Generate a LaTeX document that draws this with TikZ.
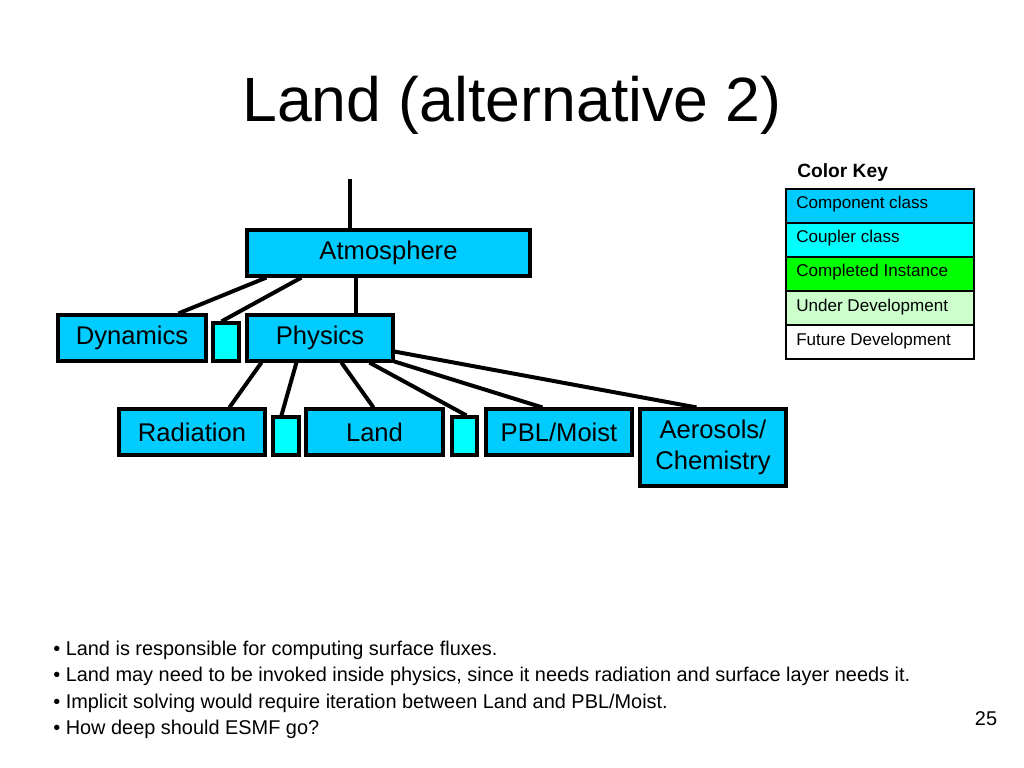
\documentclass[tikz,border=0pt]{standalone}
\usepackage{fontspec}
\setmainfont{Liberation Sans}
\usepackage{tikz}
\usetikzlibrary{calc}
\definecolor{compblue}{RGB}{0,204,255}
\definecolor{cplcyan}{RGB}{0,255,255}
\definecolor{donegreen}{RGB}{0,255,0}
\definecolor{devgreen}{RGB}{204,255,204}
\def\px{0.703125pt}

\begin{document}
\begin{tikzpicture}[x=\px, y=-\px,
  comp/.style={draw, line width=2.2pt, fill=compblue, inner sep=0pt, align=center,
    font=\fontsize{18}{21.6}\selectfont},
  cpl/.style={draw, line width=2.2pt, fill=cplcyan, inner sep=0pt},
  link/.style={line width=2.8pt},
  keyrow/.style={draw, line width=1.4pt, anchor=north west, minimum width=188*\px,
    minimum height=34*\px, inner sep=0pt}
]
  \useasboundingbox[fill=white] (0,0) rectangle (1024,768);

  % title
  \node[anchor=base, font=\fontsize{44}{52}\selectfont] (title) at (512,122) {Land (alternative 2)};

  % component tree
  \node[comp, minimum width=283*\px, minimum height=46*\px] (atm) at (388.5,253) {Atmosphere};
  \node[comp, minimum width=148*\px, minimum height=46*\px] (dyn) at (132,338) {Dynamics};
  \node[cpl, minimum width=26*\px, minimum height=38*\px] (cplA) at (226,342) {};
  \node[comp, minimum width=146*\px, minimum height=46*\px] (phys) at (320,338) {Physics};
  \node[comp, minimum width=146*\px, minimum height=46*\px] (rad) at (192,432) {Radiation};
  \node[cpl, minimum width=26*\px, minimum height=38*\px] (cplB) at (286,436) {};
  \node[comp, minimum width=137*\px, minimum height=46*\px] (land) at (374.5,432) {Land};
  \node[cpl, minimum width=25*\px, minimum height=38*\px] (cplC) at (464.5,436) {};
  \node[comp, minimum width=146*\px, minimum height=46*\px] (pbl) at (559,432) {PBL/Moist};
  \node[comp, minimum width=146*\px, minimum height=77*\px] (aer) at (713,447.5) {Aerosols/\\Chemistry};

  % connectors
  \coordinate (atmtop) at (350,179);
  \draw[link] (atmtop) -- (atmtop |- atm.north);
  \draw[link] ($(atm.south west)+(21,0)$) -- ($(dyn.north west)+(122,0)$);
  \draw[link] ($(atm.south west)+(56,0)$) -- ($(cplA.north west)+(10,0)$);
  \draw[link] ($(atm.south west)+(111,0)$) -- ($(phys.north west)+(111,0)$);
  \draw[link] ($(phys.south west)+(16,0)$) -- ($(rad.north west)+(112,0)$);
  \draw[link] ($(phys.south west)+(51,0)$) -- ($(cplB.north west)+(10,0)$);
  \draw[link] ($(phys.south west)+(96,0)$) -- ($(land.north west)+(69,0)$);
  \draw[link] ($(phys.south west)+(124,0)$) -- ($(cplC.north west)+(16,0)$);
  \draw[link] ($(phys.south east)+(0,-1)$) -- ($(pbl.north west)+(58,0)$);
  \draw[link] ($(phys.south east)+(0,-11)$) -- ($(aer.north west)+(58,0)$);

  % color key
  \node[anchor=base west, inner sep=0pt, font=\fontsize{13.5}{16}\selectfont\bfseries] (keytitle) at (797,178) {Color Key};
  \foreach \clr/\lbl/\idx in {compblue/Component class/0, cplcyan/Coupler class/1,
    donegreen/Completed Instance/2, devgreen/Under Development/3, white/Future Development/4}{
    \node[keyrow, fill=\clr] (key\idx) at (785,188+34*\idx) {};
    \node[anchor=base west, inner sep=0pt, font=\fontsize{12}{14}\selectfont] (keytxt\idx) at (796,209+34*\idx) {\lbl};
  }

  % notes
  \foreach \txt/\idx in {
    {Land is responsible for computing surface fluxes.}/0,
    {Land may need to be invoked inside physics, since it needs radiation and surface layer needs it.}/1,
    {Implicit solving would require iteration between Land and PBL/Moist.}/2,
    {How deep should ESMF go?}/3
  }{
    \node[anchor=base west, inner sep=0pt, font=\fontsize{14}{16}\selectfont] (note\idx) at (53,655+26.5*\idx) {\textbullet\ \txt};
  }
  \node[anchor=base, font=\fontsize{14}{16}\selectfont] (pagenum) at (986,725) {25};
\end{tikzpicture}
\end{document}
